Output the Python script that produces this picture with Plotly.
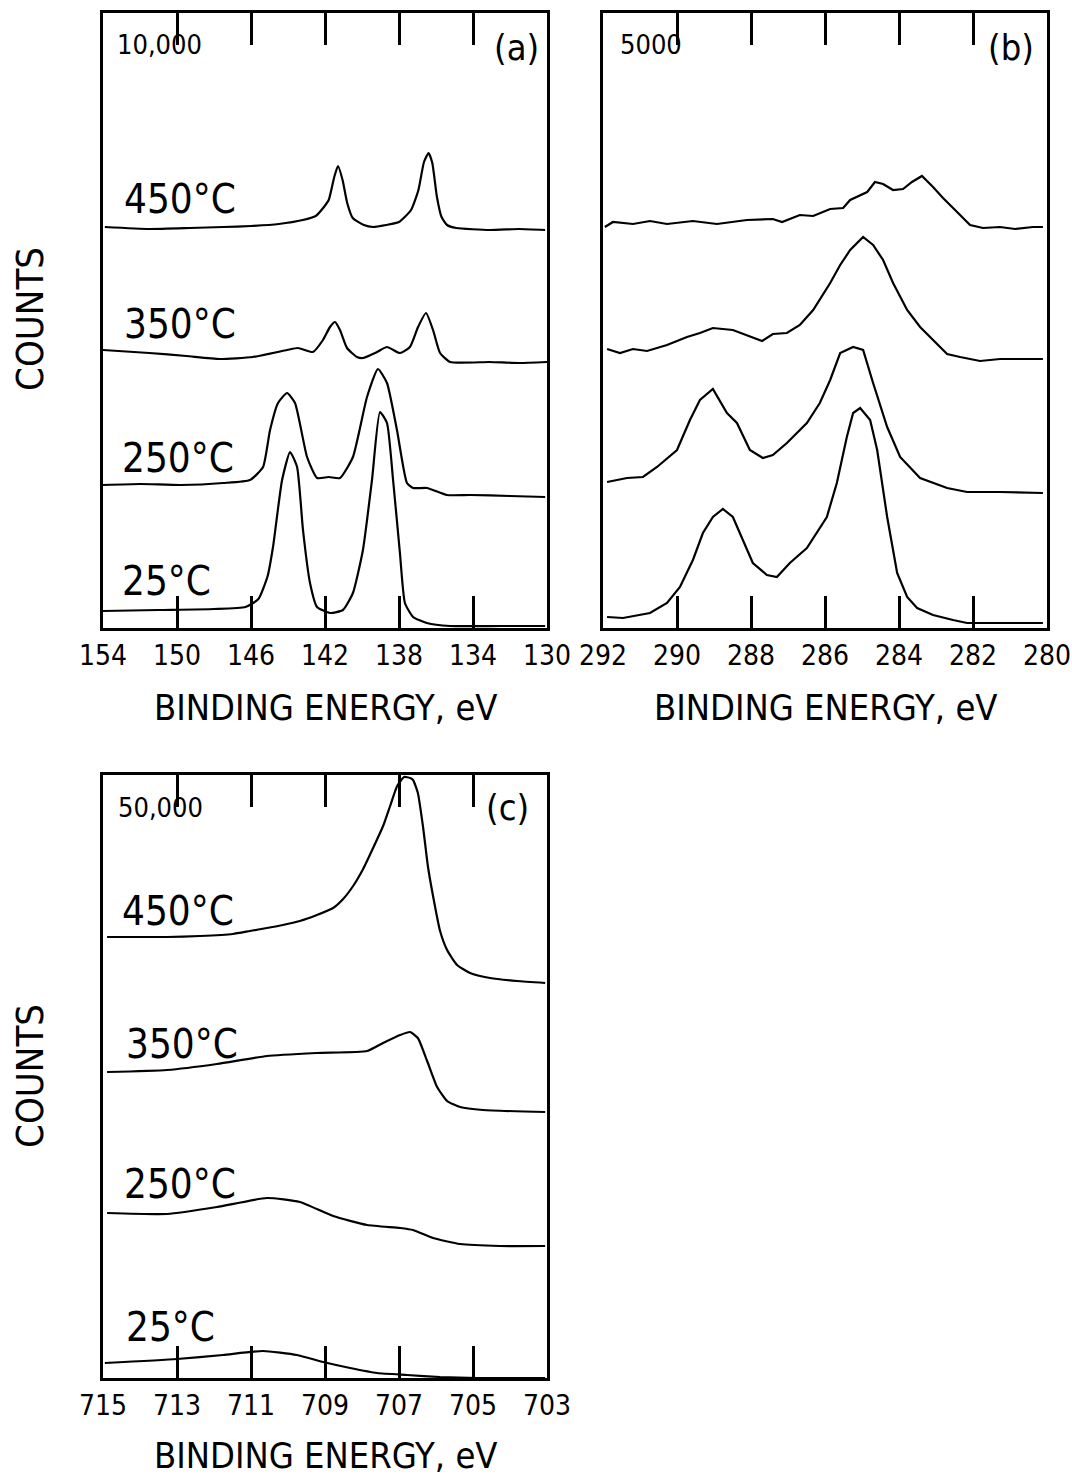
import plotly.graph_objects as go

W, H = 1072, 1478
FONT = "DejaVu Sans Condensed, Liberation Sans Narrow, Arial Narrow, Liberation Sans, sans-serif"

# ---------------- Panel (a): binding energy (eV) / counts (arb.) ----------------
a_450_x = [153.9, 151.5, 149.3, 147.5, 146.0, 144.5, 143.2, 142.5, 142.1, 141.8, 141.5, 141.3, 141.05, 140.8, 140.5,
           139.9, 139.4, 138.7, 138.0, 137.35, 136.95, 136.65, 136.4, 136.2, 135.95, 135.7, 135.4, 134.9, 133.1, 131.5, 130.1]
a_450_y = [401, 399, 400, 401, 402, 404, 408, 412, 420, 428, 451, 462, 448, 425, 410,
           403, 401, 403, 406, 418, 438, 466, 475, 465, 431, 411, 403, 400, 398, 399, 398]

a_350_x = [154.0, 151.5, 149.5, 147.7, 145.9, 144.05, 143.46, 142.65, 142.11, 141.73, 141.46, 141.19, 140.81, 140.27,
           139.95, 139.19, 138.65, 137.95, 137.41, 136.97, 136.54, 136.16, 135.78, 135.24, 133.1, 131.5, 130.0]
a_350_y = [278, 275, 272, 269, 271, 278, 280, 276, 288, 301, 306, 298, 280, 271,
           270, 276, 281, 275, 281, 301, 315, 298, 275, 266, 266, 265, 266]

a_250_x = [154.0, 152.0, 149.8, 147.5, 146.05, 145.35, 144.97, 144.54, 144.05, 143.62, 142.97, 142.43, 141.8, 141.19,
           140.49, 139.73, 139.14, 138.65, 138.11, 137.57, 137.24, 136.49, 135.41, 134.16, 132.0, 130.1]
a_250_y = [143, 144, 143, 145, 148, 161, 198, 225, 235, 225, 171, 150, 151, 150,
           171, 231, 259, 245, 198, 145, 140, 140, 133, 133, 132, 131]

a_25_x = [154.0, 151.0, 148.0, 146.3, 145.6, 145.1, 144.81, 144.32, 143.89, 143.51, 143.19, 142.81, 142.43, 141.73,
          141.03, 140.49, 139.95, 139.46, 139.03, 138.65, 138.32, 137.95, 137.68, 137.24, 136.49, 135.24, 132.5, 130.1]
a_25_y = [17, 18, 19, 21, 29, 52, 81, 148, 176, 161, 98, 45, 21, 15,
          18, 35, 78, 148, 216, 205, 148, 75, 25, 11, 5, 2, 2, 2]

# ---------------- Panel (b) ----------------
b_450_x = [291.95, 291.73, 291.19, 290.73, 290.27, 289.57, 288.92, 288.11, 287.41, 287.16, 286.68, 286.32, 285.86,
           285.51, 285.32, 284.86, 284.65, 284.43, 284.16, 283.89, 283.65, 283.38, 283.08, 282.81, 282.43, 282.08,
           281.73, 281.27, 280.86, 280.38, 280.11]
b_450_y = [401, 406, 404, 407, 404, 407, 404, 408, 409, 406, 413, 412, 419,
           420, 428, 436, 446, 444, 438, 439, 446, 452, 441, 430, 416, 403,
           400, 401, 399, 401, 401]

b_350_x = [291.89, 291.54, 291.19, 290.81, 290.27, 289.73, 289.38, 289.03, 288.49, 288.11, 287.70, 287.41, 287.03,
           286.68, 286.32, 285.86, 285.59, 285.32, 284.97, 284.70, 284.43, 284.16, 283.78, 283.43, 283.08, 282.70,
           282.35, 281.81, 281.27, 280.73, 280.11]
b_350_y = [279, 275, 279, 277, 283, 291, 295, 300, 298, 293, 287, 294, 295,
           303, 318, 345, 363, 378, 391, 383, 368, 345, 318, 301, 288, 274,
           271, 267, 269, 269, 269]

b_250_x = [291.89, 291.35, 290.92, 290.54, 290.0, 289.65, 289.38, 289.03, 288.65, 288.38, 288.03, 287.68, 287.41,
           287.03, 286.49, 286.14, 285.86, 285.59, 285.24, 284.97, 284.70, 284.32, 283.97, 283.43, 282.70, 282.16,
           281.27, 280.11]
b_250_y = [146, 150, 151, 161, 178, 208, 228, 239, 215, 205, 178, 170, 173,
           185, 205, 225, 248, 275, 281, 278, 245, 201, 171, 150, 140, 136,
           136, 135]

b_25_x = [291.89, 291.46, 290.73, 290.27, 289.92, 289.57, 289.30, 289.03, 288.76, 288.49, 288.22, 287.95, 287.57,
          287.30, 286.95, 286.49, 285.95, 285.68, 285.41, 285.24, 285.05, 284.78, 284.59, 284.32, 284.05, 283.78,
          283.51, 283.08, 282.54, 282.16, 281.27, 280.11]
b_25_y = [11, 10, 15, 25, 41, 68, 95, 111, 119, 111, 88, 65, 53,
          51, 65, 80, 111, 145, 191, 215, 220, 208, 178, 111, 55, 31,
          20, 13, 8, 5, 5, 5]

# ---------------- Panel (c) ----------------
c_450_x = [714.89, 713.27, 712.38, 711.49, 711.03, 710.57, 710.14, 709.68, 709.22, 708.78, 708.51, 708.24, 707.97,
           707.70, 707.43, 707.24, 707.05, 706.86, 706.70, 706.62, 706.49, 706.35, 706.22, 706.08, 705.89, 705.70,
           705.43, 705.08, 704.54, 703.81, 703.05]
c_450_y = [441, 441, 442, 444, 447, 450, 453, 457, 463, 470, 479, 492, 509,
           530, 552, 572, 592, 601, 600, 598, 585, 551, 512, 482, 447, 428,
           413, 405, 400, 397, 395]

c_350_x = [714.89, 713.27, 711.92, 710.57, 709.22, 707.86, 707.43, 706.97, 706.70, 706.49, 706.24, 705.97, 705.70,
           705.35, 704.73, 703.05]
c_350_y = [306, 308, 314, 322, 325, 327, 335, 343, 346, 340, 317, 291, 277, 271, 268, 266]

c_250_x = [714.89, 713.27, 711.92, 710.57, 709.68, 708.78, 707.86, 706.97, 706.62, 706.08, 705.35, 704.27, 703.05]
c_250_y = [165, 164, 171, 180, 176, 162, 153, 150, 148, 140, 134, 132, 132]

c_25_x = [714.95, 713.0, 711.76, 710.68, 709.76, 709.05, 708.32, 707.59, 706.78, 705.89, 704.89, 703.05]
c_25_y = [15, 19, 23, 27, 23, 16, 10, 5, 3, 1, 0, 0]

temps = ["450°C", "350°C", "250°C", "25°C"]

a_ticks = [154, 150, 146, 142, 138, 134, 130]
b_ticks = [292, 290, 288, 286, 284, 282, 280]
c_ticks = [715, 713, 711, 709, 707, 705, 703]

panels = [
    dict(name="a", xa="x", ya="y", xr=[154, 130], yr=[0, 615], ticks=a_ticks, dx=(103, 547), dy=(13, 628),
         series=[(a_450_x, a_450_y), (a_350_x, a_350_y), (a_250_x, a_250_y), (a_25_x, a_25_y)], shape="spline"),
    dict(name="b", xa="x2", ya="y2", xr=[292, 280], yr=[0, 615], ticks=b_ticks, dx=(603, 1047), dy=(13, 628),
         series=[(b_450_x, b_450_y), (b_350_x, b_350_y), (b_250_x, b_250_y), (b_25_x, b_25_y)], shape="linear"),
    dict(name="c", xa="x3", ya="y3", xr=[715, 703], yr=[0, 603], ticks=c_ticks, dx=(103, 547), dy=(775, 1378),
         series=[(c_450_x, c_450_y), (c_350_x, c_350_y), (c_250_x, c_250_y), (c_25_x, c_25_y)], shape="spline"),
]

fig = go.Figure()
layout = dict(width=W, height=H, margin=dict(l=0, r=0, t=0, b=0, pad=0, autoexpand=False),
              paper_bgcolor="white", plot_bgcolor="white", showlegend=False,
              font=dict(family=FONT, color="black"))

for p in panels:
    for (xs, ys), t in zip(p["series"], temps):
        fig.add_trace(go.Scatter(x=xs, y=ys, mode="lines", name=f"({p['name']}) {t}",
                                 line=dict(color="black", width=2.2, shape=p["shape"], smoothing=0.5),
                                 xaxis=p["xa"], yaxis=p["ya"], hoverinfo="skip", cliponaxis=True))
    xkey = "xaxis" + p["xa"][1:]
    ykey = "yaxis" + p["ya"][1:]
    layout[xkey] = dict(domain=[p["dx"][0] / W, p["dx"][1] / W], range=p["xr"], anchor=p["ya"],
                        showline=True, linecolor="black", linewidth=3, mirror="allticks",
                        ticks="inside", ticklen=32, tickwidth=2.5, tickcolor="black",
                        tickvals=p["ticks"], ticktext=[str(v) for v in p["ticks"]],
                        tickfont=dict(family=FONT, size=28, color="black"), automargin=False,
                        showgrid=False, zeroline=False, fixedrange=True)
    layout[ykey] = dict(domain=[1 - p["dy"][1] / H, 1 - p["dy"][0] / H], range=p["yr"], anchor=p["xa"],
                        showline=True, linecolor="black", linewidth=3, mirror=True, automargin=False,
                        ticks="", showticklabels=False, showgrid=False, zeroline=False, fixedrange=True)

def ann(text, x, y, size, angle=0, xanchor="center"):
    return dict(text=text, x=x / W, y=1 - y / H, xref="paper", yref="paper", showarrow=False,
                font=dict(family=FONT, size=size, color="black"), textangle=angle,
                xanchor=xanchor, yanchor="middle")

anns = [
    ann("COUNTS", 30, 319, 38, -90),
    ann("COUNTS", 30, 1076, 38, -90),
    ann("BINDING ENERGY, eV", 325, 707, 36),
    ann("BINDING ENERGY, eV", 825, 707, 36),
    ann("BINDING ENERGY, eV", 325, 1455, 36),
    ann("10,000", 115, 44, 27, xanchor="left"),
    ann("5000", 618, 44, 27, xanchor="left"),
    ann("50,000", 116, 807, 27, xanchor="left"),
    ann("(a)", 516, 47, 36),
    ann("(b)", 1011, 47, 36),
    ann("(c)", 507, 807, 36),
    ann("450°C", 122, 199, 40, xanchor="left"),
    ann("350°C", 122, 324, 40, xanchor="left"),
    ann("250°C", 120, 458, 40, xanchor="left"),
    ann("25°C", 120, 581, 40, xanchor="left"),
    ann("450°C", 120, 911, 40, xanchor="left"),
    ann("350°C", 124, 1044, 40, xanchor="left"),
    ann("250°C", 122, 1184, 40, xanchor="left"),
    ann("25°C", 124, 1327, 40, xanchor="left"),
]
layout["annotations"] = anns
fig.update_layout(**layout)
fig.write_html("out.html")
